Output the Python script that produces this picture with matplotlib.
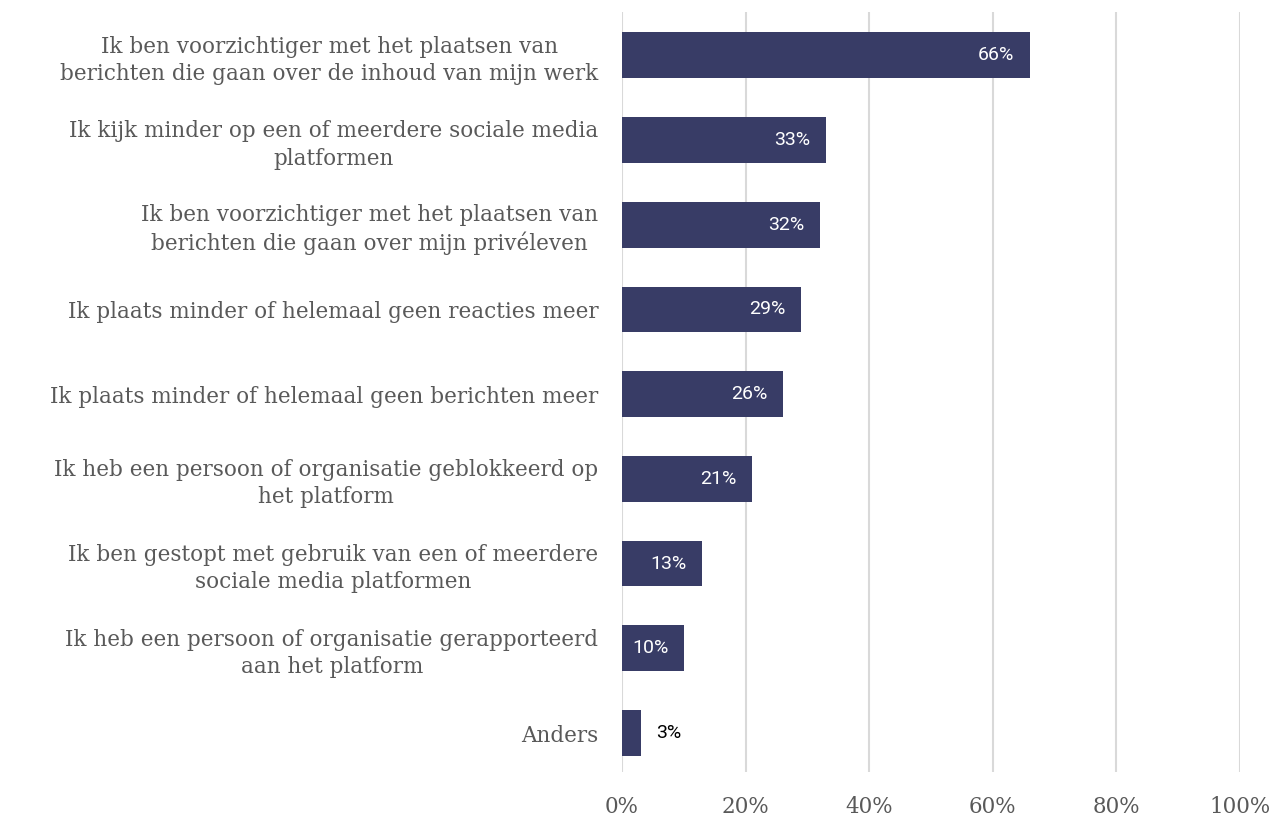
import matplotlib

matplotlib.use("Agg")
import matplotlib.pyplot as plt
import numpy as np

categories = [
    "Ik ben voorzichtiger met het plaatsen van\nberichten die gaan over de inhoud van mijn werk",
    "Ik kijk minder op een of meerdere sociale media\nplatformen",
    "Ik ben voorzichtiger met het plaatsen van\nberichten die gaan over mijn privéleven",
    "Ik plaats minder of helemaal geen reacties meer",
    "Ik plaats minder of helemaal geen berichten meer",
    "Ik heb een persoon of organisatie geblokkeerd op\nhet platform",
    "Ik ben gestopt met gebruik van een of meerdere\nsociale media platformen",
    "Ik heb een persoon of organisatie gerapporteerd\naan het platform",
    "Anders",
]
values = [66, 33, 32, 29, 26, 21, 13, 10, 3]
x_ticks = [0, 20, 40, 60, 80, 100]

BAR = "#383c66"
GREY = "#595959"
SERIF = "DejaVu Serif"

fig = plt.figure(figsize=(12.75, 8.17), dpi=100)
ax = fig.add_axes([622 / 1275, 45 / 817, 618 / 1275, 760 / 817])

y = np.arange(len(categories))
ax.barh(y, values, height=0.54, color=BAR, zorder=3)

ax.set_xlim(0, 100)
ax.set_ylim(8.46, -0.51)
ax.set_xticks(x_ticks)
ax.set_xticklabels([f"{t}%" for t in x_ticks], fontsize=15.5,
                   family=SERIF, color=GREY)
ax.set_yticks(y)
ax.set_yticklabels(categories, fontsize=15.5, family=SERIF, color=GREY,
                   multialignment="center", linespacing=1.3)
ax.tick_params(axis="both", length=0)
ax.tick_params(axis="y", pad=17)
ax.tick_params(axis="x", pad=17)
ax.grid(axis="x", color="#d9d9d9", linewidth=1.5, zorder=0)
for s in ax.spines.values():
    s.set_visible(False)

for yi, v in zip(y, values):
    if v >= 8:
        ax.annotate(f"{v}%", (v, yi), xytext=(-11, 0), textcoords="offset points",
                    ha="right", va="center", color="white", fontsize=14,
                    family="Roboto")
    else:
        ax.annotate(f"{v}%", (v, yi), xytext=(11, 0), textcoords="offset points",
                    ha="left", va="center", color="black", fontsize=14,
                    family="Roboto")

fig.savefig("out.png", dpi=100)
